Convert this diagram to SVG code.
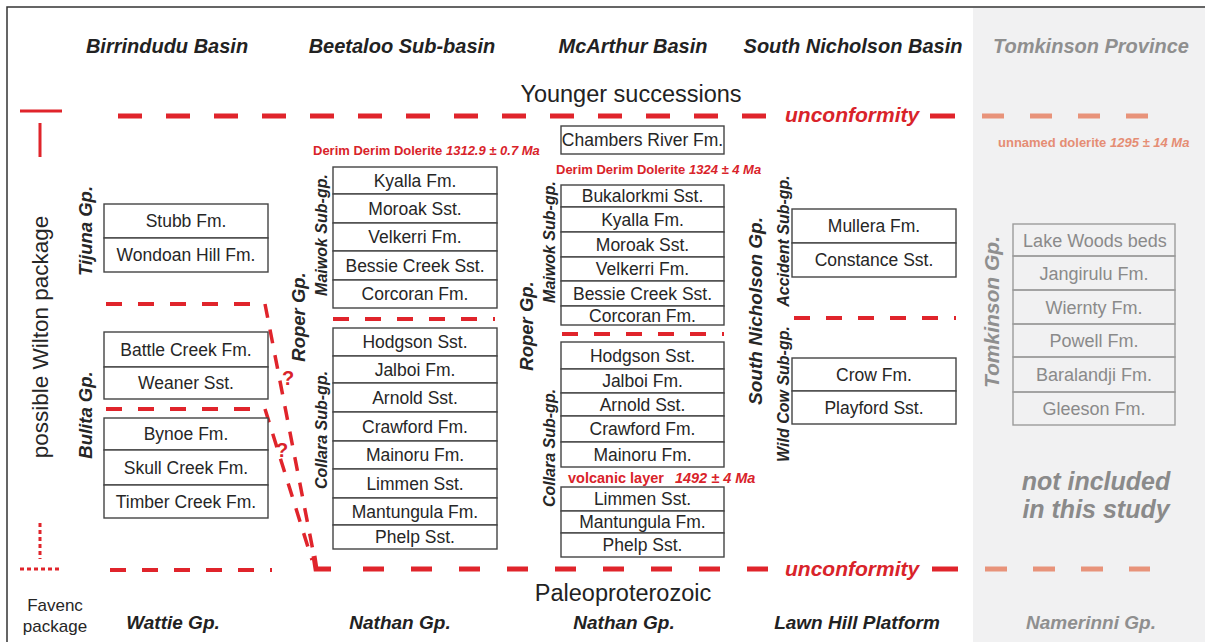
<svg xmlns="http://www.w3.org/2000/svg" width="1205" height="642" viewBox="0 0 1205 642">
<style>
text{font-family:"Liberation Sans",Arial,Helvetica,sans-serif}
.hd{font-size:20px;font-weight:bold;font-style:italic;fill:#222;text-anchor:middle}
.hdg{font-size:20px;font-weight:bold;font-style:italic;fill:#8f8f8f;text-anchor:middle}
.bt{font-size:19px;font-weight:bold;font-style:italic;fill:#222;text-anchor:middle}
.btg{font-size:19px;font-weight:bold;font-style:italic;fill:#8f8f8f;text-anchor:middle}
.big{font-size:23.5px;fill:#222;text-anchor:middle}
.unc{font-size:21px;font-weight:bold;font-style:italic;fill:#d9232a}
.fm{font-size:17.5px;fill:#262626;text-anchor:middle}
.fmg{font-size:18px;fill:#8a8a8a;text-anchor:middle}
.box{fill:#fff;stroke:#444;stroke-width:1.4}
.gbox{fill:none;stroke:#9c9c9c;stroke-width:1.4}
.gp{font-size:18.5px;font-weight:bold;font-style:italic;fill:#262626;text-anchor:middle}
.gpg{font-size:21px;font-weight:bold;font-style:italic;fill:#8f8f8f;text-anchor:middle}
.sub{font-size:16px;font-weight:bold;font-style:italic;fill:#262626;text-anchor:middle}
.age{font-size:13px;font-weight:bold;fill:#d9232a}
.ageo{font-size:13px;font-weight:bold;fill:#e58d74}
.it{font-style:italic}
.q{font-size:20px;font-weight:bold;fill:#d9232a;text-anchor:middle}
.main{stroke:#e0242b;stroke-width:5;fill:none}
.mainTop{stroke-dasharray:24 24}
.mainBot{stroke-dasharray:21 27}
.orng{stroke:#e8937a;stroke-width:5;fill:none;stroke-dasharray:22 26}
.small{stroke:#e0242b;stroke-width:4;fill:none;stroke-dasharray:16 16}
.slant{stroke:#e0242b;stroke-width:3.5;fill:none;stroke-dasharray:14 12}
.mark{stroke:#e0242b;stroke-width:3;fill:none}
.dot{stroke:#e0242b;stroke-width:3;fill:none;stroke-dasharray:4 3}
.lbl{font-size:22.5px;fill:#262626;text-anchor:middle}
.fav{font-size:17px;fill:#262626;text-anchor:middle}
.ni{font-size:25px;font-weight:bold;font-style:italic;fill:#8a8a8a;text-anchor:middle}
</style>

<!-- background and frame -->
<rect x="0" y="0" width="1205" height="642" fill="#fff"/>
<rect x="973" y="8" width="232" height="634" fill="#f1f1f2"/>
<path d="M7,642 V7 H1205" fill="none" stroke="#333" stroke-width="1.5"/>

<!-- headers -->
<g id="headers">
<text class="hd" x="167" y="53">Birrindudu Basin</text>
<text class="hd" x="402" y="53">Beetaloo Sub-basin</text>
<text class="hd" x="633" y="53">McArthur Basin</text>
<text class="hd" x="853" y="53">South Nicholson Basin</text>
<text class="hdg" x="1091" y="53">Tomkinson Province</text>
<text class="big" x="631" y="102">Younger successions</text>
<text class="big" x="623" y="601">Paleoproterozoic</text>
<text class="bt" x="173" y="629">Wattie Gp.</text>
<text class="bt" x="400" y="629">Nathan Gp.</text>
<text class="bt" x="624" y="629">Nathan Gp.</text>
<text class="bt" x="857" y="629">Lawn Hill Platform</text>
<text class="btg" x="1091" y="629">Namerinni Gp.</text>
</g>

<!-- left packages -->
<g id="wilton-package">
<path class="mark" d="M20,111 H62 M40,123 V157"/>
<text class="lbl" transform="translate(48,337) rotate(-90)">possible Wilton package</text>
</g>
<g id="favenc-package">
<path class="dot" d="M40,523 V559 M20,569 H62"/>
<text class="fav" x="55" y="611">Favenc</text>
<text class="fav" x="55" y="632">package</text>
</g>

<!-- connectors / boundaries -->
<g id="connectors">
<path class="main mainTop" d="M118,116 H766"/>
<path class="main" d="M930,116 H955"/>
<path class="orng" d="M982,116 H1148"/>
<text class="unc" x="785" y="122">unconformity</text>

<path class="main" d="M314,556 L316,569 H331"/>
<path class="main mainBot" d="M363,569 H775"/>
<path class="main" d="M932,569 H958"/>
<path class="orng" d="M985,569 H1150"/>
<text class="unc" x="785" y="576">unconformity</text>

<path class="small" d="M106,304 H250"/>
<path class="small" d="M106,409 H250"/>
<path class="small" d="M110,570 H272"/>
<path class="slant" d="M265,304 L314,556"/>
<path class="slant" d="M265,409 L312,560"/>
<text class="q" x="288" y="385">?</text>
<text class="q" x="282" y="457">?</text>

<path class="small" d="M333,319 H495"/>
<path class="small" d="M562,334 H724"/>
<path class="small" d="M794,318 H956"/>
</g>

<!-- Birrindudu Basin -->
<g id="tijuna-gp">
<text class="gp" transform="translate(92,231) rotate(-90)">Tijuna Gp.</text>
</g>
<g id="stubb"><rect class="box" x="104" y="204" width="164" height="34"/><text class="fm" x="186" y="227">Stubb Fm.</text></g>
<g id="wondoan"><rect class="box" x="104" y="238" width="164" height="34"/><text class="fm" x="186" y="261">Wondoan Hill Fm.</text></g>
<g id="bulita-gp">
<text class="gp" transform="translate(92,415) rotate(-90)">Bulita Gp.</text>
</g>
<g id="battle-creek"><rect class="box" x="104" y="332" width="164" height="35"/><text class="fm" x="186" y="355.5">Battle Creek Fm.</text></g>
<g id="weaner"><rect class="box" x="104" y="367" width="164" height="32"/><text class="fm" x="186" y="389">Weaner Sst.</text></g>
<g id="bynoe"><rect class="box" x="104" y="418" width="164" height="32"/><text class="fm" x="186" y="440">Bynoe Fm.</text></g>
<g id="skull-creek"><rect class="box" x="104" y="450" width="164" height="35"/><text class="fm" x="186" y="473.5">Skull Creek Fm.</text></g>
<g id="timber-creek"><rect class="box" x="104" y="485" width="164" height="33"/><text class="fm" x="186" y="507.5">Timber Creek Fm.</text></g>

<!-- Beetaloo Sub-basin -->
<g id="beetaloo-labels">
<text class="age" x="313" y="155">Derim Derim Dolerite <tspan class="it">1312.9 ± 0.7 Ma</tspan></text>
<text class="gp" transform="translate(305,317) rotate(-90)">Roper Gp.</text>
<text class="sub" transform="translate(327,235) rotate(-90)">Maiwok Sub-gp.</text>
<text class="sub" transform="translate(327,430) rotate(-90)">Collara Sub-gp.</text>
</g>
<g id="b-kyalla"><rect class="box" x="333" y="167" width="164" height="27"/><text class="fm" x="415" y="186.5">Kyalla Fm.</text></g>
<g id="b-moroak"><rect class="box" x="333" y="194" width="164" height="29"/><text class="fm" x="415" y="214.5">Moroak Sst.</text></g>
<g id="b-velkerri"><rect class="box" x="333" y="223" width="164" height="28"/><text class="fm" x="415" y="243">Velkerri Fm.</text></g>
<g id="b-bessie"><rect class="box" x="333" y="251" width="164" height="29"/><text class="fm" x="415" y="271.5">Bessie Creek Sst.</text></g>
<g id="b-corcoran"><rect class="box" x="333" y="280" width="164" height="28"/><text class="fm" x="415" y="300">Corcoran Fm.</text></g>
<g id="b-hodgson"><rect class="box" x="333" y="328" width="164" height="28"/><text class="fm" x="415" y="348">Hodgson Sst.</text></g>
<g id="b-jalboi"><rect class="box" x="333" y="356" width="164" height="27"/><text class="fm" x="415" y="375.5">Jalboi Fm.</text></g>
<g id="b-arnold"><rect class="box" x="333" y="383" width="164" height="29"/><text class="fm" x="415" y="403.5">Arnold Sst.</text></g>
<g id="b-crawford"><rect class="box" x="333" y="412" width="164" height="29"/><text class="fm" x="415" y="432.5">Crawford Fm.</text></g>
<g id="b-mainoru"><rect class="box" x="333" y="441" width="164" height="28"/><text class="fm" x="415" y="461">Mainoru Fm.</text></g>
<g id="b-limmen"><rect class="box" x="333" y="469" width="164" height="29"/><text class="fm" x="415" y="489.5">Limmen Sst.</text></g>
<g id="b-mantungula"><rect class="box" x="333" y="498" width="164" height="27"/><text class="fm" x="415" y="517.5">Mantungula Fm.</text></g>
<g id="b-phelp"><rect class="box" x="333" y="525" width="164" height="24"/><text class="fm" x="415" y="543">Phelp Sst.</text></g>

<!-- McArthur Basin -->
<g id="m-chambers"><rect class="box" x="561" y="126" width="163" height="28"/><text class="fm" x="642.5" y="146">Chambers River Fm.</text></g>
<g id="mcarthur-labels">
<text class="age" x="556" y="174">Derim Derim Dolerite <tspan class="it">1324 ± 4 Ma</tspan></text>
<text class="gp" transform="translate(533,326) rotate(-90)">Roper Gp.</text>
<text class="sub" transform="translate(555,242) rotate(-90)">Maiwok Sub-gp.</text>
<text class="sub" transform="translate(555,448) rotate(-90)">Collara Sub-gp.</text>
<text class="age" x="568" y="483" style="font-size:14.5px">volcanic layer<tspan class="it" dx="11">1492 ± 4 Ma</tspan></text>
</g>
<g id="m-bukalorkmi"><rect class="box" x="561" y="185" width="163" height="22"/><text class="fm" x="642.5" y="202">Bukalorkmi Sst.</text></g>
<g id="m-kyalla"><rect class="box" x="561" y="207" width="163" height="25"/><text class="fm" x="642.5" y="225.5">Kyalla Fm.</text></g>
<g id="m-moroak"><rect class="box" x="561" y="232" width="163" height="25"/><text class="fm" x="642.5" y="250.5">Moroak Sst.</text></g>
<g id="m-velkerri"><rect class="box" x="561" y="257" width="163" height="24"/><text class="fm" x="642.5" y="275">Velkerri Fm.</text></g>
<g id="m-bessie"><rect class="box" x="561" y="281" width="163" height="25"/><text class="fm" x="642.5" y="299.5">Bessie Creek Sst.</text></g>
<g id="m-corcoran"><rect class="box" x="561" y="306" width="163" height="19"/><text class="fm" x="642.5" y="321.5">Corcoran Fm.</text></g>
<g id="m-hodgson"><rect class="box" x="561" y="342" width="163" height="27"/><text class="fm" x="642.5" y="361.5">Hodgson Sst.</text></g>
<g id="m-jalboi"><rect class="box" x="561" y="369" width="163" height="24"/><text class="fm" x="642.5" y="387">Jalboi Fm.</text></g>
<g id="m-arnold"><rect class="box" x="561" y="393" width="163" height="23"/><text class="fm" x="642.5" y="410.5">Arnold Sst.</text></g>
<g id="m-crawford"><rect class="box" x="561" y="416" width="163" height="26"/><text class="fm" x="642.5" y="435">Crawford Fm.</text></g>
<g id="m-mainoru"><rect class="box" x="561" y="442" width="163" height="25"/><text class="fm" x="642.5" y="460.5">Mainoru Fm.</text></g>
<g id="m-limmen"><rect class="box" x="561" y="487" width="163" height="24"/><text class="fm" x="642.5" y="505">Limmen Sst.</text></g>
<g id="m-mantungula"><rect class="box" x="561" y="511" width="163" height="22"/><text class="fm" x="642.5" y="528">Mantungula Fm.</text></g>
<g id="m-phelp"><rect class="box" x="561" y="533" width="163" height="24"/><text class="fm" x="642.5" y="551">Phelp Sst.</text></g>

<!-- South Nicholson Basin -->
<g id="sn-labels">
<text class="gp" style="font-size:19px" transform="translate(762,311) rotate(-90)">South Nicholson Gp.</text>
<text class="sub" transform="translate(789,241) rotate(-90)">Accident Sub-gp.</text>
<text class="sub" transform="translate(789,394) rotate(-90)">Wild Cow Sub-gp.</text>
</g>
<g id="sn-mullera"><rect class="box" x="792" y="209" width="164" height="34"/><text class="fm" x="874" y="232">Mullera Fm.</text></g>
<g id="sn-constance"><rect class="box" x="792" y="243" width="164" height="34"/><text class="fm" x="874" y="266">Constance Sst.</text></g>
<g id="sn-crow"><rect class="box" x="792" y="358" width="164" height="33"/><text class="fm" x="874" y="380.5">Crow Fm.</text></g>
<g id="sn-playford"><rect class="box" x="792" y="391" width="164" height="33"/><text class="fm" x="874" y="413.5">Playford Sst.</text></g>

<!-- Tomkinson Province -->
<g id="tomkinson-labels">
<text class="ageo" x="998" y="147">unnamed dolerite <tspan class="it">1295 ± 14 Ma</tspan></text>
<text class="gpg" transform="translate(999,312) rotate(-90)">Tomkinson Gp.</text>
<text class="ni" x="1096" y="490">not included</text>
<text class="ni" x="1096" y="518">in this study</text>
</g>
<g id="t-lakewoods"><rect class="gbox" x="1013" y="224" width="162" height="32"/><text class="fmg" x="1095" y="246.5">Lake Woods beds</text></g>
<g id="t-jangirulu"><rect class="gbox" x="1013" y="256" width="162" height="34"/><text class="fmg" x="1094" y="279.5">Jangirulu Fm.</text></g>
<g id="t-wiernty"><rect class="gbox" x="1013" y="290" width="162" height="34"/><text class="fmg" x="1094" y="313.5">Wiernty Fm.</text></g>
<g id="t-powell"><rect class="gbox" x="1013" y="324" width="162" height="33"/><text class="fmg" x="1094" y="347">Powell Fm.</text></g>
<g id="t-baralandji"><rect class="gbox" x="1013" y="357" width="162" height="35"/><text class="fmg" x="1094" y="381">Baralandji Fm.</text></g>
<g id="t-gleeson"><rect class="gbox" x="1013" y="392" width="162" height="33"/><text class="fmg" x="1094" y="415">Gleeson Fm.</text></g>
</svg>
